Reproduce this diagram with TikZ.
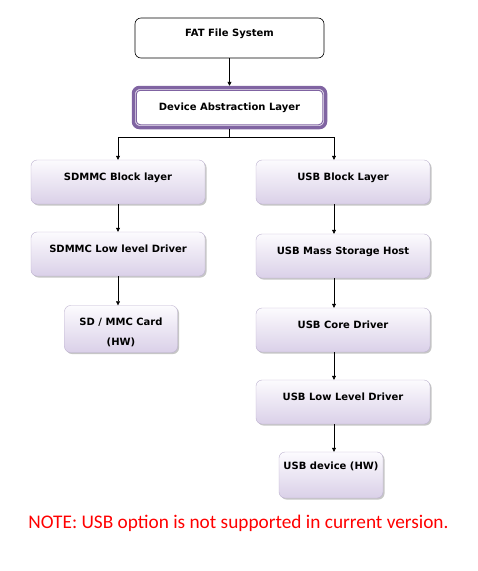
\documentclass[tikz,border=0pt]{standalone}
\usepackage{fontspec}
\setmainfont{DejaVu Sans}
\newfontfamily\notefont{Carlito}
\usetikzlibrary{arrows.meta,positioning,shadows}
\definecolor{lavtop}{HTML}{FCFBFE}
\definecolor{lavbot}{HTML}{DAD0E8}
\definecolor{lavline}{HTML}{BDB2CF}
\definecolor{dalpurple}{HTML}{8064A2}
\definecolor{notered}{HTML}{FF0000}

\begin{document}
\begin{tikzpicture}[
    x=1pt, y=-1pt,
    boxfont/.style={font=\bfseries\fontsize{10}{12}\selectfont},
    layer/.style={rectangle, rounded corners=6pt, draw=lavline, boxfont,
        top color=lavtop, bottom color=lavbot,
        drop shadow={shadow xshift=1.5pt, shadow yshift=-1.5pt, opacity=0.45},
        minimum width=174pt, inner sep=0pt, text height=20pt, text depth=24pt},
    smalllayer/.style={layer, minimum width=104pt, text height=17pt, text depth=29pt},
    cardlayer/.style={layer, minimum width=113pt, align=center,
        text height=40pt, text depth=7pt,
        font=\bfseries\fontsize{10}{20}\selectfont},
    topblock/.style={rectangle, rounded corners=6pt, draw=black, fill=white, boxfont,
        line width=0.6pt, minimum width=189pt, inner sep=0pt,
        text height=18.5pt, text depth=21.5pt},
    dalblock/.style={rectangle, rounded corners=6pt, draw=dalpurple, fill=white, boxfont,
        line width=3.5pt, minimum width=192pt, minimum height=40pt},
    arr/.style={-{Triangle[length=4pt, width=4pt]}, black, line width=0.6pt},
    note/.style={font=\notefont\fontsize{19.3}{22}\selectfont, text=notered}
]
    \useasboundingbox (0,0) rectangle (478,571);

    % Top: file system and abstraction layer
    \node[topblock] (fat) at (229.5,38) {FAT File System};
    \node[dalblock] (dal) at (229.5,107.5) {Device Abstraction Layer};
    \draw[dalpurple, line width=1pt, rounded corners=4pt]
        ([shift={(4.5pt,4.5pt)}]dal.south west) rectangle ([shift={(-4.5pt,-4.5pt)}]dal.north east);

    % Left column: SDMMC
    \node[layer] (sdblk) at (118,182) {SDMMC Block layer};
    \node[layer] (sdlow) at (118,254) {SDMMC Low level Driver};
    \node[cardlayer] (sdcard) at (121,329) {SD / MMC Card\\(HW)};

    % Right column: USB
    \node[layer] (usbblk) at (343,182) {USB Block Layer};
    \node[layer] (usbmsh) at (343,256) {USB Mass Storage Host};
    \node[layer] (usbcore) at (343,330) {USB Core Driver};
    \node[layer] (usblow) at (343,402) {USB Low Level Driver};
    \node[smalllayer] (usbdev) at (331,475) {USB device (HW)};

    \node[note] (nousb) at (238.5,523) {NOTE: USB option is not supported in current version.};

    % Arrows
    \coordinate (split) at (229.5,137);
    \coordinate (rightcol) at (334,137);
    \draw[arr] (fat) -- (dal);
    \draw[line width=0.6pt] (dal.south) -- (split);
    \draw[arr] (split) -| (sdblk.north);
    \draw[arr] (split) -| (rightcol |- usbblk.north);

    \draw[arr] (sdblk) -- (sdlow);
    \draw[arr] (sdlow.south) -- (sdlow.south |- sdcard.north);

    \draw[arr] (usbblk.south -| rightcol) -- (usbmsh.north -| rightcol);
    \draw[arr] (usbmsh.south -| rightcol) -- (usbcore.north -| rightcol);
    \draw[arr] (usbcore.south -| rightcol) -- (usblow.north -| rightcol);
    \draw[arr] (usblow.south -| rightcol) -- (usbdev.north -| rightcol);
\end{tikzpicture}
\end{document}
